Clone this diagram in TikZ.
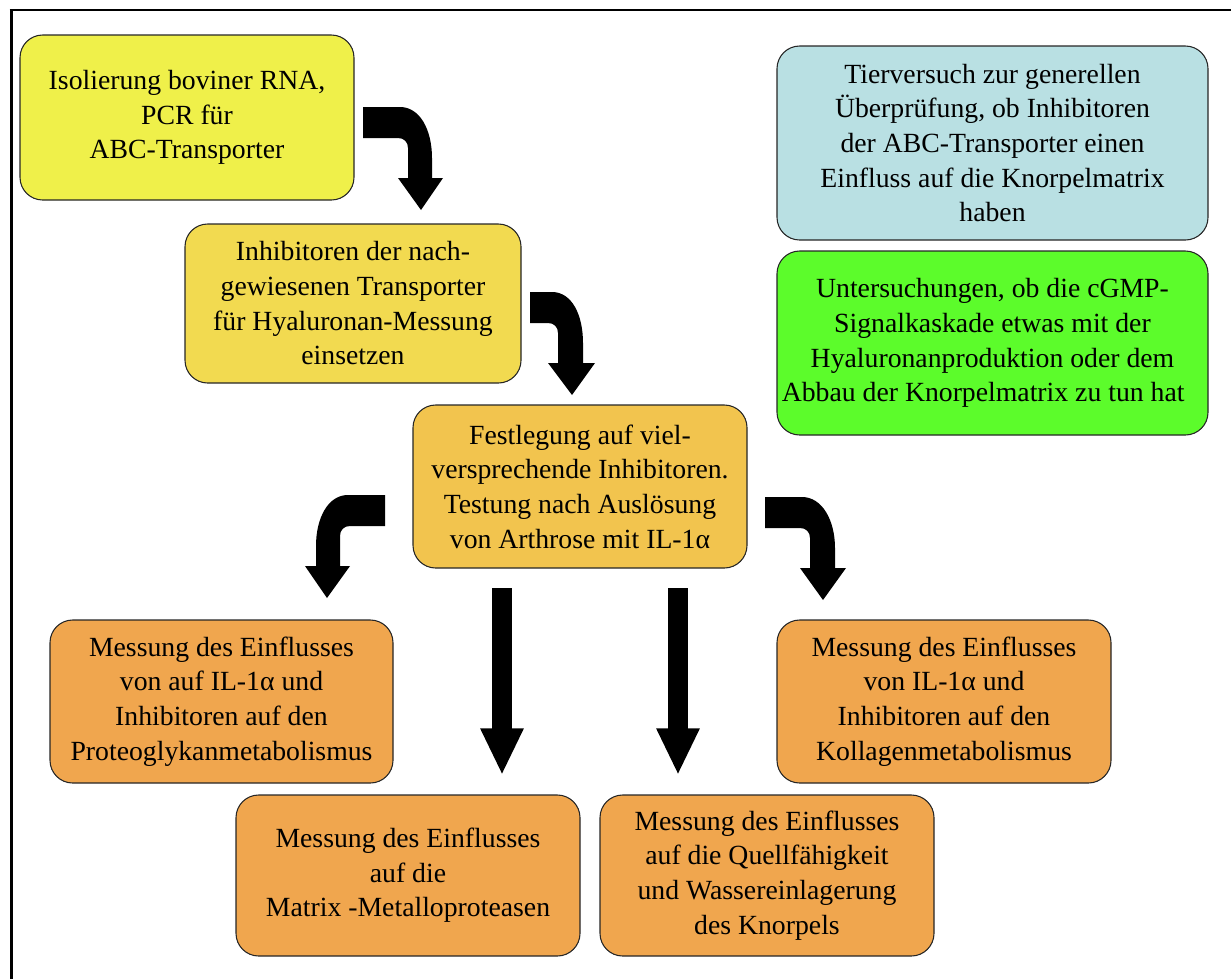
\documentclass[tikz,border=0pt]{standalone}
\usepackage{fontspec}
\setmainfont{Liberation Serif}
\usetikzlibrary{arrows.meta}
\definecolor{cyel}{RGB}{239,240,74}
\definecolor{cyel2}{RGB}{242,218,80}
\definecolor{cgold}{RGB}{242,196,78}
\definecolor{corange}{RGB}{240,166,78}
\definecolor{cblue}{RGB}{185,224,227}
\definecolor{cgreen}{RGB}{92,252,43}
\tikzset{
  box/.style={draw=black!85, line width=0.8pt, rounded corners=17pt, align=center,
    inner sep=0pt, font=\fontsize{20.8pt}{26pt}\selectfont, text=black},
  bentarrow/.style={fill=black},
  straightarrow/.style={draw=black, line width=15pt,
    -{Triangle[width=30pt,length=35pt]}},
}
\begin{document}
\begin{tikzpicture}[x=0.75pt,y=-0.75pt]
\useasboundingbox (0,0) rectangle (1231,979);
% frame
\draw[line width=2.25pt] (11,979) -- (11,9);
\draw[line width=1.5pt] (9.5,10) -- (1231,10);
% boxes
\node[box, fill=cyel, minimum width=250.5pt, minimum height=123.75pt] (b1) at (187,117.5)
  {Isolierung boviner RNA,\\PCR für\\ABC-Transporter};
\node[box, fill=cyel2, minimum width=252pt, minimum height=119.25pt] (b2) at (353,303.5)
  {Inhibitoren der nach-\\gewiesenen Transporter\\für Hyaluronan-Messung\\einsetzen};
\node[box, fill=cgold, minimum width=250.5pt, minimum height=122.25pt] (b3) at (580,486.5)
  {Festlegung auf viel-\\versprechende Inhibitoren.\\Testung nach Auslösung\\von Arthrose mit IL-1α};
\node[box, fill=cblue, minimum width=323.25pt, minimum height=145.5pt] (bb) at (992.5,143)
  {Tierversuch zur generellen\\Überprüfung, ob Inhibitoren\\der ABC-Transporter einen\\Einfluss auf die Knorpelmatrix\\haben};
\node[box, fill=cgreen, minimum width=323.25pt, minimum height=138pt] (bg) at (992.5,343)
  {Untersuchungen, ob die cGMP-\\Signalkaskade etwas mit der\\Hyaluronanproduktion oder dem\\Abbau der Knorpelmatrix zu tun hat\hspace*{14pt}};
\node[box, fill=corange, minimum width=257.25pt, minimum height=122.25pt] (oL) at (221.5,701.5)
  {Messung des Einflusses\\von auf IL-1α und\\Inhibitoren auf den\\Proteoglykanmetabolismus};
\node[box, fill=corange, minimum width=250.5pt, minimum height=122.25pt] (oR) at (944,701.5)
  {Messung des Einflusses\\von IL-1α und\\Inhibitoren auf den\\Kollagenmetabolismus};
\node[box, fill=corange, minimum width=258pt, minimum height=120.75pt] (bL) at (408,875.5)
  {Messung des Einflusses\\auf die\\Matrix -Metalloproteasen};
\node[box, fill=corange, minimum width=250.5pt, minimum height=120.75pt] (bR) at (767,875.5)
  {Messung des Einflusses\\auf die Quellfähigkeit\\und Wassereinlagerung\\des Knorpels};
% arrow anchor points
\coordinate (a1s) at (363,107);
\coordinate (a2s) at (530,292);
\coordinate (a3s) at (385,495);
\coordinate (a4s) at (765,497);
\coordinate (a5s) at (502,588);
\coordinate (a5e) at (502,775);
\coordinate (a6s) at (678,588);
\coordinate (a6e) at (678,775);
% bent arrows
\begin{scope}[shift={(a1s)}]
\fill[bentarrow] (0,0) -- (37,0) .. controls (57,0) and (69,23) .. (69,51) -- (69,71) -- (80,71)
  -- (58,103) -- (35,71) -- (45,71) -- (45,41) .. controls (45,35) and (41,31) .. (35,31) -- (0,31) -- cycle;
\end{scope}
\begin{scope}[shift={(a2s)}]
\fill[bentarrow] (0,0) -- (22,0) .. controls (42,0) and (53,23) .. (53,51) -- (53,71) -- (65,71)
  -- (42,103) -- (18,71) -- (28,71) -- (28,41) .. controls (28,35) and (24,31) .. (18,31) -- (0,31) -- cycle;
\end{scope}
\begin{scope}[shift={(a3s)}, xscale=-1]
\fill[bentarrow] (0,0) -- (37,0) .. controls (57,0) and (69,23) .. (69,51) -- (69,71) -- (80,71)
  -- (58,103) -- (35,71) -- (45,71) -- (45,41) .. controls (45,35) and (41,31) .. (35,31) -- (0,31) -- cycle;
\end{scope}
\begin{scope}[shift={(a4s)}]
\fill[bentarrow] (0,0) -- (37,0) .. controls (57,0) and (70,23) .. (70,51) -- (70,71) -- (81,71)
  -- (58,103) -- (35,71) -- (45,71) -- (45,41) .. controls (45,35) and (41,31) .. (35,31) -- (0,31) -- cycle;
\end{scope}
% straight arrows
\draw[straightarrow] (a5s) -- (a5e);
\draw[straightarrow] (a6s) -- (a6e);
\end{tikzpicture}
\end{document}
